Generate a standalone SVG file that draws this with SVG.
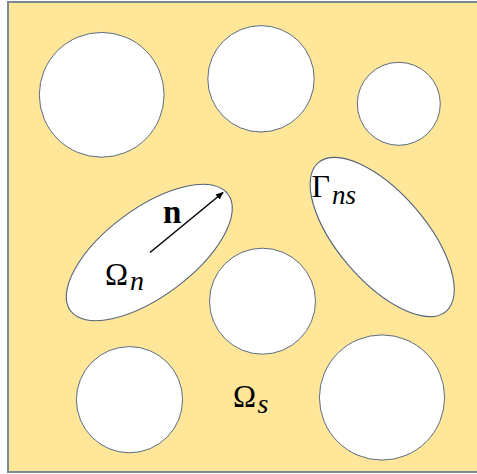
<svg xmlns="http://www.w3.org/2000/svg" width="477" height="474" viewBox="0 0 477 474">
  <style>
    .hole { fill: #ffffff; stroke: #5b6b80; stroke-width: 1; }
    .ell { fill: #ffffff; stroke: #53637a; stroke-width: 1.1; }
    .sym { font-family: "Liberation Serif", "DejaVu Serif", serif; fill: #000000; }
    .sub { font-family: "Liberation Serif", "DejaVu Serif", serif; font-style: italic; fill: #000000; }
  </style>
  <defs>
    <marker id="arr" markerWidth="8" markerHeight="8" refX="7" refY="4" orient="auto" markerUnits="userSpaceOnUse">
      <path d="M0,0.8 L8,4 L0,7.2 Z" fill="#000000"/>
    </marker>
  </defs>
  <rect x="0" y="0" width="477" height="474" fill="#ffffff"/>
  <g id="domain">
    <rect x="8" y="2" width="480" height="470" fill="#FFE699" stroke="#7b8a90" stroke-width="2"/>
  </g>
  <g id="circle1"><circle class="hole" cx="101.7" cy="94.8" r="62.4"/></g>
  <g id="circle2"><circle class="hole" cx="261" cy="78.8" r="53.2"/></g>
  <g id="circle3"><circle class="hole" cx="398.8" cy="103.8" r="41.5"/></g>
  <g id="circle4"><circle class="hole" cx="262.5" cy="301.2" r="53"/></g>
  <g id="circle5"><circle class="hole" cx="129.5" cy="399.7" r="53.1"/></g>
  <g id="circle6"><circle class="hole" cx="382" cy="397.5" r="62.6"/></g>
  <g id="ellipse-n">
    <ellipse class="ell" cx="149.3" cy="252.5" rx="98" ry="44" transform="rotate(-36.5 149.3 252.5)"/>
  </g>
  <g id="ellipse-ns">
    <ellipse class="ell" cx="382.2" cy="237" rx="98" ry="44" transform="rotate(49.3 382.2 237)"/>
  </g>
  <g id="connectors">
    <line x1="150" y1="252.5" x2="223" y2="192.5" stroke="#000000" stroke-width="1.5" marker-end="url(#arr)"/>
  </g>
  <g id="labels">
    <text class="sym" x="163" y="223" font-size="33" font-weight="bold">n</text>
    <text class="sym" x="105" y="285" font-size="31">Ω</text>
    <text class="sub" x="130" y="290" font-size="28">n</text>
    <text class="sym" x="311.5" y="196.7" font-size="32">Γ</text>
    <text class="sub" x="332" y="204" font-size="27">ns</text>
    <text class="sym" x="233" y="406.7" font-size="31">Ω</text>
    <text class="sub" x="257.5" y="413.3" font-size="28">s</text>
  </g>
</svg>
